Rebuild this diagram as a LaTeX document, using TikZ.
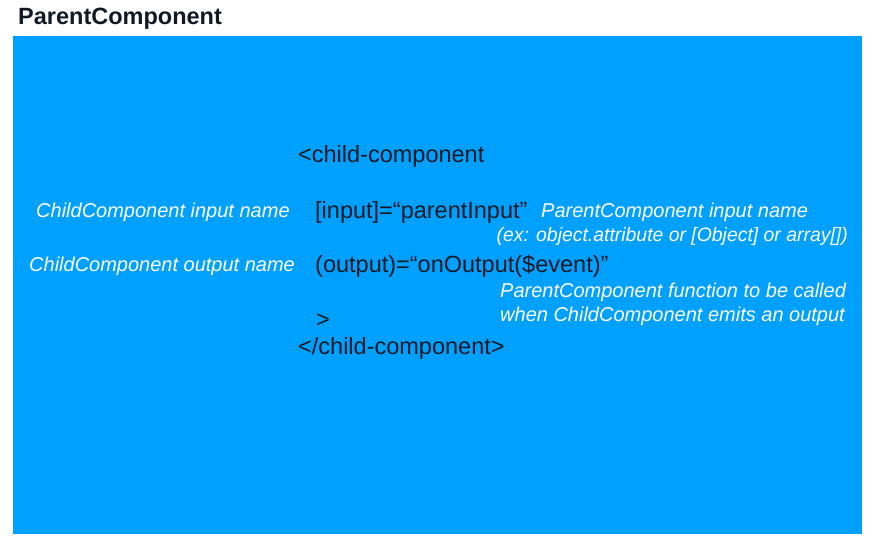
\documentclass[tikz,border=0pt]{standalone}
\usepackage{fontspec}
\setmainfont{Liberation Sans}
\definecolor{parentblue}{HTML}{00A0FF}
\definecolor{codeink}{HTML}{111A24}
\begin{document}
\begin{tikzpicture}[
    x=1pt, y=-1pt,
    title/.style={
        anchor=west, inner sep=0pt, text=codeink,
        font=\fontsize{23.5}{26}\selectfont\bfseries
    },
    code/.style={
        anchor=west, inner sep=0pt, text=codeink,
        font=\fontsize{23.5}{27}\selectfont
    },
    note/.style={
        anchor=west, inner sep=0pt, text=white, align=left,
        font=\fontsize{20}{24}\selectfont\itshape
    }
]
\useasboundingbox[fill=white] (0,0) rectangle (880,541);

\fill[parentblue] (13,36) rectangle (862,534);
\node[title] (parent) at (18,19) {ParentComponent};

\node[code] (open) at (298,156) {<child-component};
\node[code] (input) at (315,212) {[input]=“parentInput”};
\node[code] (output) at (315,266) {(output)=“onOutput(\$event)”};
\node[code] (close) at (316,321) {>};
\node[code] (end) at (298,348) {</child-component>};

\node[note] (childin) at (36,212) {ChildComponent input name};
\node[note] (childout) at (29,266) {ChildComponent output name};
\node[note] (parentin) at (541,212) {ParentComponent input name};
\node[note, anchor=east, font=\fontsize{19.4}{24}\selectfont\itshape] (example) at (848,236) {(ex: object.attribute or [Object] or array[])};
\node[note, anchor=north west] (parentfn) at (500,283) {ParentComponent function to be called\\when ChildComponent emits an output};
\end{tikzpicture}
\end{document}
